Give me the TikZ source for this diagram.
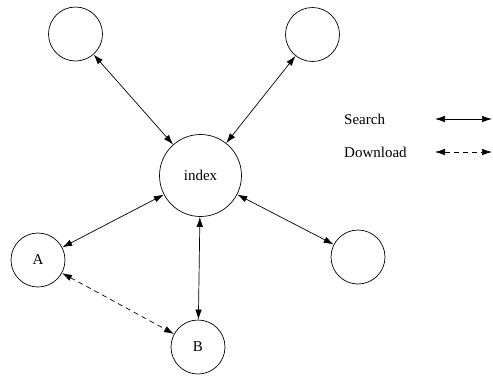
\documentclass[tikz,border=0pt]{standalone}
\usepackage{fontspec}
\setmainfont{Liberation Serif}
\usetikzlibrary{arrows.meta}
\begin{document}
\begin{tikzpicture}[x=1pt,y=-1pt,
  peer/.style={draw,circle,line width=0.7pt,inner sep=0pt,minimum size=54pt,font=\fontsize{15}{17}\selectfont},
  hub/.style={peer,minimum size=82pt},
  search/.style={line width=0.7pt,{Latex[length=10pt,width=6.5pt]}-{Latex[length=10pt,width=6.5pt]}},
  download/.style={search,dash pattern=on 5pt off 4pt},
  lbl/.style={font=\fontsize{15}{17}\selectfont,inner sep=0pt}]
\useasboundingbox (0,0) rectangle (493,376);
% nodes
\node[hub]  (idx) at (200.5,175.5) {index};
\node[peer] (tl)  at (75.5,34) {};
\node[peer] (tr)  at (312.5,34.5) {};
\node[peer] (A)   at (38,260) {A};
\node[peer] (B)   at (198,347) {B};
\node[peer] (R)   at (358,257) {};
% search links
\draw[search] (tl) -- (idx);
\draw[search] (tr) -- (idx);
\draw[search] (A) -- (idx);
\draw[search] (B) -- (idx);
\draw[search] (R) -- (idx);
% download link
\draw[download] (A) -- (B);
% legend
\node[lbl,anchor=west] (ls) at (344,119) {Search};
\node[lbl,anchor=west] (ld) at (344,152) {Download};
\coordinate (s1) at (435,119);
\coordinate (s2) at (492,119);
\coordinate (d1) at (435,152);
\coordinate (d2) at (492,152);
\draw[search] (s1) -- (s2);
\draw[download] (d1) -- (d2);
\end{tikzpicture}
\end{document}
